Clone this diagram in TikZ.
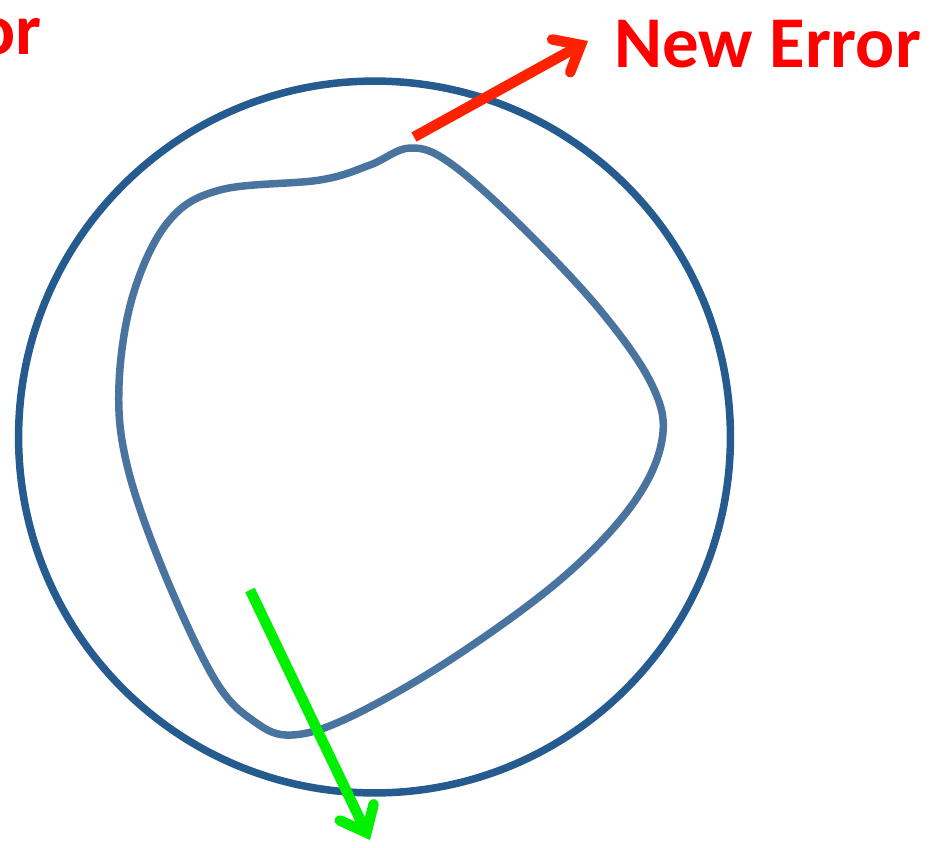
\documentclass[tikz,border=0pt]{standalone}
\usepackage{fontspec}
\setmainfont{Carlito}
\usetikzlibrary{arrows.meta}
\definecolor{outerblue}{HTML}{265B8F}
\definecolor{innerblue}{HTML}{4A74A0}
\definecolor{errred}{HTML}{FF0000}
\definecolor{arrred}{HTML}{FF2200}
\definecolor{arrgreen}{HTML}{00F000}
\tikzset{
  ring/.style={draw=outerblue, line width=0.15cm},
  blob/.style={draw=innerblue, line width=0.15cm},
  errarrow/.style={line width=0.21cm, line cap=butt, -{Straight Barb[length=0.45cm, width=0.75cm, line cap=round]}},
  errlabel/.style={text=errred, font=\fontsize{41.5pt}{48pt}\selectfont\bfseries, inner sep=0pt}
}
\begin{document}
\begin{tikzpicture}[x=0.02cm, y=-0.02cm]
\useasboundingbox (0,0) rectangle (950,848);
\fill[white] (0,0) rectangle (950,848);
% outer circle
\node[ring, circle, minimum size=14.24cm, inner sep=0pt] (outer) at (374.5,437) {};
% inner blob
\draw[blob] plot[smooth cycle, tension=0.6] coordinates {
 (410,148) (450,163) (520,225) (600,310) (652,385) (662,440) (632,505)
 (560,580) (450,660) (350,717) (292,735) (255,722) (215,680) (163,570)
 (127,465) (119,385) (133,295) (168,222) (220,190) (320,180) (370,165)};
% labels
\node[errlabel, anchor=base west] (newerr) at (614,68) {New Error};
\node[errlabel, anchor=base east] (olderr) at (42,55) {Error};
% arrows
\coordinate (rs) at (414,137);
\coordinate (re) at (588,41);
\draw[errarrow, draw=arrred] (rs) -- (re);
\coordinate (gs) at (250,590);
\coordinate (ge) at (370,840);
\draw[errarrow, draw=arrgreen] (gs) -- (ge);
\end{tikzpicture}
\end{document}
